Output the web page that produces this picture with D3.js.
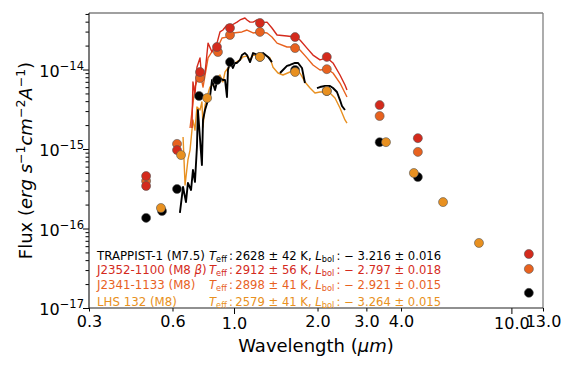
<!DOCTYPE html>
<html>
<head>
<meta charset="utf-8">
<script src="https://cdnjs.cloudflare.com/ajax/libs/d3/7.8.5/d3.min.js"></script>
<style>
  html, body { margin: 0; padding: 0; background: #fff; }
  svg { display: block; font-family: "DejaVu Sans", sans-serif; }
</style>
</head>
<body>
<div id="chart"></div>
<script>
// SED of TRAPPIST-1 and comparison M8 dwarfs
// wavelengths in micron, fluxes in erg s^-1 cm^-2 A^-1 (null = gap in spectrum)

const trappistSpecWave = [0.638, 0.655, 0.671, 0.682, 0.700, 0.711, 0.723, 0.735, 0.741, 0.766, 0.773, 0.786, 0.806, 0.819, 0.833, 0.854, 0.875, 0.890, 0.912, 0.928, 0.943, 0.951, 0.967, 0.991, 1.008, 1.025, 1.051, 1.068, 1.095, 1.114, 1.142, 1.171, 1.220, 1.272, 1.326, 1.370, 1.40, 1.465, 1.501, 1.552, 1.591, 1.659, 1.700, 1.758, 1.802, 1.90, 1.991, 2.041, 2.128, 2.218, 2.274, 2.350, 2.410, 2.450, 2.512];
const trappistSpecFlux = [1.57e-16, 3.33e-16, 2.15e-16, 3.74e-16, 3.05e-16, 5.44e-16, 3.85e-16, 1.06e-15, 3.10e-15, 6.3e-16, 2.32e-15, 3.10e-15, 4.13e-15, 4.51e-15, 7.38e-15, 5.52e-15, 7.82e-15, 7.82e-15, 7.38e-15, 7.38e-15, 4.51e-15, 9.86e-15, 1.24e-14, 1.045e-14, 1.21e-14, 1.21e-14, 1.32e-14, 1.52e-14, 1.61e-14, 1.52e-14, 1.24e-14, 1.61e-14, 1.52e-14, 1.61e-14, 1.44e-14, 1.24e-14, null, 9.04e-15, 9.86e-15, 1.11e-14, 1.14e-14, 1.21e-14, 1.21e-14, 1.045e-14, 6.76e-15, null, 5.85e-15, 6.02e-15, 6.20e-15, 6.20e-15, 5.85e-15, 5.21e-15, 4.13e-15, 3.48e-15, 3.10e-15];

const j2352SpecWave = [0.705, 0.711, 0.723, 0.735, 0.754, 0.766, 0.786, 0.806, 0.833, 0.854, 0.868, 0.890, 0.912, 0.943, 0.983, 1.025, 1.051, 1.095, 1.114, 1.142, 1.171, 1.210, 1.241, 1.315, 1.370, 1.429, 1.552, 1.659, 1.729, 1.832, 1.926, 2.041, 2.163, 2.274, 2.410, 2.512, 2.554];
const j2352SpecFlux = [1.84e-15, 6.97e-15, 4.78e-15, 1.07e-14, 1.40e-14, 7.38e-15, 9.04e-15, 2.15e-14, 1.66e-14, 2.03e-14, 2.15e-14, 2.97e-14, 3.14e-14, 3.63e-14, 3.63e-14, 3.95e-14, 4.20e-14, 4.45e-14, 4.20e-14, 3.95e-14, 3.95e-14, 4.20e-14, 3.85e-14, 3.95e-14, 3.33e-14, 2.72e-14, 2.64e-14, 2.56e-14, 2.35e-14, 1.86e-14, 1.52e-14, 1.32e-14, 1.40e-14, 1.21e-14, 8.53e-15, 6.38e-15, 5.52e-15];

const j2341SpecWave = [0.694, 0.723, 0.754, 0.773, 0.806, 0.840, 0.875, 0.905, 0.943, 0.991, 1.068, 1.114, 1.171, 1.241, 1.315, 1.370, 1.429, 1.552, 1.659, 1.729, 1.832, 1.926, 2.041, 2.163, 2.274, 2.410, 2.512, 2.554];
const j2341SpecFlux = [1.84e-15, 6.02e-15, 9.31e-15, 6.02e-15, 1.40e-14, 1.76e-14, 1.92e-14, 2.49e-14, 2.56e-14, 2.88e-14, 2.97e-14, 3.14e-14, 2.88e-14, 2.97e-14, 2.88e-14, 2.56e-14, 2.15e-14, 1.92e-14, 1.92e-14, 1.76e-14, 1.40e-14, 1.14e-14, 9.86e-15, 1.01e-14, 9.04e-15, 6.76e-15, 5.06e-15, 4.51e-15];

const lhsSpecWave = [0.655, 0.666, 0.682, 0.694, 0.711, 0.723, 0.735, 0.754, 0.766, 0.773, 0.786, 0.799, 0.819, 0.840, 0.854, 0.875, 0.890, 0.912, 0.928, 0.951, 0.983, 1.008, 1.051, 1.077, 1.114, 1.142, 1.171, 1.220, 1.272, 1.326, 1.348, 1.382, 1.440, 1.501, 1.591, 1.659, 1.729, 1.802, 1.879, 1.958, 2.041, 2.128, 2.218, 2.312, 2.410, 2.512, 2.554];
const lhsSpecFlux = [1.42e-15, 3.53e-16, 7.28e-16, 9.7e-16, 2.32e-15, 1.73e-15, 3.37e-15, 3.10e-15, 3.90e-15, 1.89e-15, 3.57e-15, 4.51e-15, 6.02e-15, 6.38e-15, 6.97e-15, 8.05e-15, 8.53e-15, 6.97e-15, 9.31e-15, 1.045e-14, 1.17e-14, 1.21e-14, 1.32e-14, 1.44e-14, 1.48e-14, 1.32e-14, 1.52e-14, 1.48e-14, 1.57e-14, 1.44e-14, 1.40e-14, 1.07e-14, 9.04e-15, 8.53e-15, 9.31e-15, 9.86e-15, 9.04e-15, 6.97e-15, 5.85e-15, 5.06e-15, 5.21e-15, 5.21e-15, 5.06e-15, 4.38e-15, 3.28e-15, 2.32e-15, 2.12e-15];

// photometry
const trappistPhotWave = [0.482, 0.550, 0.623, 0.748, 0.868, 0.967, 1.24, 1.66, 2.16, 3.35, 4.60, 11.56];
const trappistPhotFlux = [1.36e-16, 1.66e-16, 3.14e-16, 4.65e-15, 7.38e-15, 1.24e-14, 1.44e-14, 9.86e-15, 5.37e-15, 1.22e-15, 4.44e-16, 1.55e-17];

const j2352PhotWave = [0.482, 0.482, 0.623, 0.754, 0.868, 0.967, 1.24, 1.66, 2.16, 3.35, 4.60, 11.56];
const j2352PhotFlux = [4.57e-16, 3.43e-16, 9.7e-16, 9.31e-15, 1.92e-14, 3.33e-14, 3.85e-14, 2.56e-14, 1.44e-14, 3.57e-15, 1.37e-15, 4.78e-17];

const j2341PhotWave = [0.482, 0.623, 0.754, 0.875, 0.967, 1.24, 1.66, 2.16, 3.35, 4.60, 11.56];
const j2341PhotFlux = [3.96e-16, 1.16e-15, 7.82e-15, 1.66e-14, 2.72e-14, 2.97e-14, 1.86e-14, 1.01e-14, 2.60e-15, 9.2e-16, 3.10e-17];

const lhsPhotWave = [0.545, 0.644, 0.80, 1.24, 1.66, 2.16, 3.53, 4.45, 5.67, 7.64];
const lhsPhotFlux = [1.81e-16, 8.4e-16, 4.38e-15, 1.44e-14, 9.31e-15, 5.37e-15, 1.22e-15, 4.99e-16, 2.15e-16, 6.58e-17];

// legend
const objectNames = ['TRAPPIST-1 (M7.5)', 'J2352-1100 (M8 \u03b2)', 'J2341-1133 (M8)', 'LHS 132 (M8)'];
const teffValues = [2628, 2912, 2898, 2579];
const teffErrors = [42, 56, 41, 41];
const lbolValues = [-3.216, -2.797, -2.921, -3.264];
const lbolErrors = [0.016, 0.018, 0.015, 0.015];
const objectColors = ['#000000', '#d42a1c', '#e8621f', '#e89020'];

const xTickValues = [0.3, 0.6, 1.0, 2.0, 3.0, 4.0, 10.0, 13.0];
const xMajorTicks = [1.0, 10.0];

const W = 570, H = 368;
const M = { left: 89, right: 543, top: 13, bottom: 308 };

const svg = d3.select('#chart').append('svg')
  .attr('width', W).attr('height', H);

const x = d3.scaleLog().domain([0.3, 13]).range([M.left, M.right]);
const y = d3.scaleLog().domain([1e-17, 5.14e-14]).range([M.bottom, M.top]);

svg.append('defs').append('clipPath').attr('id', 'plotclip')
  .append('rect').attr('x', M.left).attr('y', M.top)
  .attr('width', M.right - M.left).attr('height', M.bottom - M.top);

function zip(w, f) { return w.map((d, i) => [d, f[i]]); }

const line = d3.line()
  .defined(d => d[1] != null)
  .x(d => x(d[0]))
  .y(d => y(d[1]));

const plot = svg.append('g').attr('clip-path', 'url(#plotclip)');

// spectra
const spectra = [
  { data: zip(lhsSpecWave, lhsSpecFlux), color: objectColors[3], w: 1.4 },
  { data: zip(trappistSpecWave, trappistSpecFlux), color: objectColors[0], w: 1.9 },
  { data: zip(j2341SpecWave, j2341SpecFlux), color: objectColors[2], w: 1.4 },
  { data: zip(j2352SpecWave, j2352SpecFlux), color: objectColors[1], w: 1.4 }
];
plot.selectAll('path.spec')
  .data(spectra)
  .join('path')
  .attr('class', 'spec')
  .attr('fill', 'none')
  .attr('stroke', d => d.color)
  .attr('stroke-width', d => d.w)
  .attr('stroke-linejoin', 'round')
  .attr('d', d => line(d.data));

// photometry points
const phot = [
  { data: zip(trappistPhotWave, trappistPhotFlux), color: objectColors[0] },
  { data: zip(j2341PhotWave, j2341PhotFlux), color: objectColors[2] },
  { data: zip(j2352PhotWave, j2352PhotFlux), color: objectColors[1] },
  { data: zip(lhsPhotWave, lhsPhotFlux), color: objectColors[3] }
];
phot.forEach(p => {
  plot.append('g').selectAll('circle')
    .data(p.data)
    .join('circle')
    .attr('cx', d => x(d[0]))
    .attr('cy', d => y(d[1]))
    .attr('r', 4.5)
    .attr('fill', p.color)
    .attr('stroke', '#555')
    .attr('stroke-width', 0.6);
});

// y axis ticks: majors at decades, minors at 2..9
const yAll = y.ticks();
const isDecade = v => Math.abs(Math.log10(v) - Math.round(Math.log10(v))) < 1e-6;
const yMajor = yAll.filter(isDecade);
const yMinor = yAll.filter(v => !isDecade(v));

svg.append('g').attr('transform', `translate(${M.left},0)`)
  .call(d3.axisLeft(y).tickValues(yMinor).tickSize(3.5).tickFormat(''))
  .call(g => g.select('.domain').remove());
svg.append('g').attr('transform', `translate(${M.left},0)`)
  .call(d3.axisLeft(y).tickValues(yMajor).tickSize(6).tickFormat(''))
  .call(g => g.select('.domain').remove());

const yLab = svg.append('g');
yMajor.forEach(v => {
  const t = yLab.append('text')
    .attr('x', M.left - 5)
    .attr('y', y(v) + 7)
    .attr('text-anchor', 'end')
    .attr('font-size', 16)
    .attr('fill', '#000');
  t.append('tspan').text('10');
  t.append('tspan').attr('font-size', 11.5).attr('dy', -7)
    .text('\u2212' + Math.abs(Math.round(Math.log10(v))));
});

// x axis ticks
const xMinor = xTickValues.filter(v => xMajorTicks.indexOf(v) < 0);
svg.append('g').attr('transform', `translate(0,${M.bottom})`)
  .call(d3.axisBottom(x).tickValues(xMinor).tickSize(3.5).tickPadding(4)
    .tickFormat(d3.format('.1f')))
  .call(g => g.select('.domain').remove())
  .call(g => g.selectAll('text').attr('font-size', 16).attr('font-family', 'DejaVu Sans').attr('fill', '#000'));
svg.append('g').attr('transform', `translate(0,${M.bottom})`)
  .call(d3.axisBottom(x).tickValues(xMajorTicks).tickSize(6).tickPadding(4)
    .tickFormat(d3.format('.1f')))
  .call(g => g.select('.domain').remove())
  .call(g => g.selectAll('text').attr('font-size', 16).attr('font-family', 'DejaVu Sans').attr('fill', '#000'));

// spines
svg.append('line').attr('x1', M.left).attr('x2', M.right).attr('y1', M.top).attr('y2', M.top)
  .attr('stroke', '#808080').attr('stroke-width', 1.3);
svg.append('line').attr('x1', M.right).attr('x2', M.right).attr('y1', M.top).attr('y2', M.bottom)
  .attr('stroke', '#808080').attr('stroke-width', 1.3);
svg.append('line').attr('x1', M.left).attr('x2', M.right).attr('y1', M.bottom).attr('y2', M.bottom)
  .attr('stroke', '#222').attr('stroke-width', 1.2);
svg.append('line').attr('x1', M.left).attr('x2', M.left).attr('y1', M.top).attr('y2', M.bottom)
  .attr('stroke', '#222').attr('stroke-width', 1.2);

// axis labels
const xl = svg.append('text')
  .attr('x', (M.left + M.right) / 2).attr('y', 352)
  .attr('text-anchor', 'middle').attr('font-size', 18).attr('fill', '#000');
xl.append('tspan').text('Wavelength (');
xl.append('tspan').attr('font-style', 'italic').text('\u03bcm');
xl.append('tspan').text(')');

const yl = svg.append('text')
  .attr('transform', `translate(32,${(M.top + M.bottom) / 2}) rotate(-90)`)
  .attr('text-anchor', 'middle').attr('font-size', 18).attr('fill', '#000');
yl.append('tspan').text('Flux  (');
yl.append('tspan').attr('font-style', 'italic').text('erg s');
yl.append('tspan').attr('font-size', 12.5).attr('dy', -7).text('\u22121');
yl.append('tspan').attr('font-style', 'italic').attr('dy', 7).text('cm');
yl.append('tspan').attr('font-size', 12.5).attr('dy', -7).text('\u22122');
yl.append('tspan').attr('font-style', 'italic').attr('dy', 7).text('A');
yl.append('tspan').attr('font-size', 12.5).attr('dy', -7).text('\u22121');
yl.append('tspan').attr('dy', 7).text(')');

// legend text
const legBase = [259.5, 274, 288.5, 305.5];
const leg = svg.append('g').attr('font-size', 11.8);
objectNames.forEach((name, i) => {
  const n = leg.append('text').attr('x', 97).attr('y', legBase[i]).attr('fill', objectColors[i]);
  if (name.indexOf('\u03b2') >= 0) {
    n.append('tspan').text(name.replace('\u03b2)', ''));
    n.append('tspan').attr('font-style', 'italic').text('\u03b2');
    n.append('tspan').text(')');
  } else {
    n.text(name);
  }
  const t = leg.append('text').attr('x', 209).attr('y', legBase[i])
    .attr('fill', objectColors[i]).attr('font-size', 11.6);
  t.append('tspan').attr('font-style', 'italic').text('T');
  t.append('tspan').attr('font-size', 8.2).attr('dy', 2.2).text('eff');
  t.append('tspan').attr('dy', -2.2)
    .text('\u2009:\u2009' + teffValues[i] + ' \u00b1 ' + teffErrors[i] + ' K, ');
  t.append('tspan').attr('font-style', 'italic').text('L');
  t.append('tspan').attr('font-size', 8.2).attr('dy', 2.2).text('bol');
  t.append('tspan').attr('dy', -2.2)
    .text('\u2009: \u2212 ' + Math.abs(lbolValues[i]).toFixed(3) + ' \u00b1 ' + lbolErrors[i].toFixed(3));
});
</script>
</body>
</html>
